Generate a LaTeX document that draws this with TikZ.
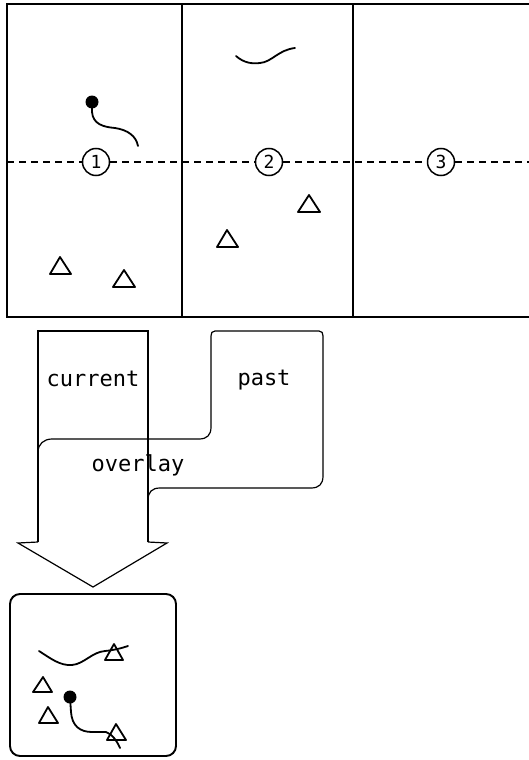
\documentclass[tikz,border=0pt]{standalone}
\usepackage{fontspec}
\newfontfamily\monofont{DejaVu Sans Mono}
\begin{document}
\begin{tikzpicture}[x=1pt,y=-1pt,
  frame/.style={line width=1.9pt},
  thin/.style={line width=1.2pt},
  curvy/.style={line width=1.8pt, line cap=round},
  tri/.style={line width=1.8pt, line join=round},
  dotted line/.style={line width=2.2pt, dash pattern=on 7pt off 5pt},
  num/.style={circle, draw, line width=1.5pt, inner sep=0pt, minimum size=27pt, font=\monofont\fontsize{18}{18}\selectfont},
  lbl/.style={inner sep=0pt, font=\monofont\fontsize{22}{22}\selectfont},
  blob/.style={circle, fill=black, inner sep=0pt, minimum size=13pt}
]
\useasboundingbox (0,0) rectangle (529,760);
% grid
\draw[frame] (529,4) -- (7,4) -- (7,317) -- (529,317);
\draw[thin] (182,4) -- (182,317);
\draw[thin] (353,4) -- (353,317);
% numbered circles and dashed line
\node[num] (c1) at (96,162) {1};
\node[num] (c2) at (269,162) {2};
\node[num] (c3) at (441,162) {3};
\coordinate (dl) at (7,162);
\coordinate (dr) at (529,162);
\draw[dotted line] (dl) -- (c1);
\draw[dotted line] (c1) -- (c2);
\draw[dotted line] (c2) -- (c3);
\draw[dotted line] (c3) -- (dr);
% cell 1 content
\node[blob] (d1) at (92,102) {};
\draw[curvy] (d1.center) -- (92,112) .. controls (93,124) and (103,127) .. (115,128) .. controls (128,130) and (136,136) .. (138,146);
\draw[tri] (60,257) -- (50,274) -- (71,274) -- cycle;
\draw[tri] (124,270) -- (113,287) -- (135,287) -- cycle;
% cell 2 content
\draw[curvy] (236,56) .. controls (244,63) and (252,64) .. (260,63) .. controls (272,62) and (278,50) .. (295,48);
\draw[tri] (227,230) -- (217,247) -- (238,247) -- cycle;
\draw[tri] (309,195) -- (298,212) -- (320,212) -- cycle;
% current / past / overlay
\draw[thin] (38,542) -- (38,331) -- (148,331) -- (148,542);
\draw[thin] (148,512) -- (148,500) .. controls (148,492) and (152,488) .. (160,488) -- (311,488)
  .. controls (319,488) and (323,484) .. (323,476) -- (323,336)
  .. controls (323,333) and (322,331) .. (319,331) -- (215,331)
  .. controls (212,331) and (211,333) .. (211,336) -- (211,427)
  .. controls (211,435) and (207,439) .. (199,439) -- (52,439)
  .. controls (44,439) and (38,444) .. (38,452);
\draw[thin, line join=miter] (38,542) -- (18,543) -- (93,587) -- (167,543) -- (148,542);
\node[lbl] (cur) at (93,379) {current};
\node[lbl] (past) at (264,380) {past};
\node[lbl] (ovl) at (138,465) {overlay};
% result box
\draw[frame, rounded corners=10pt] (10,594) rectangle (176,756);
\draw[curvy] (39,651) .. controls (50,658) and (60,666) .. (72,665) .. controls (84,664) and (92,652) .. (105,651) .. controls (115,650) and (122,648) .. (128,646);
\draw[tri] (114,644) -- (105,660) -- (123,660) -- cycle;
\draw[tri] (43,677) -- (33,692) -- (52,692) -- cycle;
\draw[tri] (48,707) -- (39,723) -- (58,723) -- cycle;
\node[blob] (d2) at (70,697) {};
\draw[curvy] (d2.center) -- (71,712) .. controls (72,726) and (80,732) .. (92,732) -- (106,732) .. controls (112,734) and (117,741) .. (120,748);
\draw[tri] (116,724) -- (107,740) -- (126,740) -- cycle;
\end{tikzpicture}
\end{document}
